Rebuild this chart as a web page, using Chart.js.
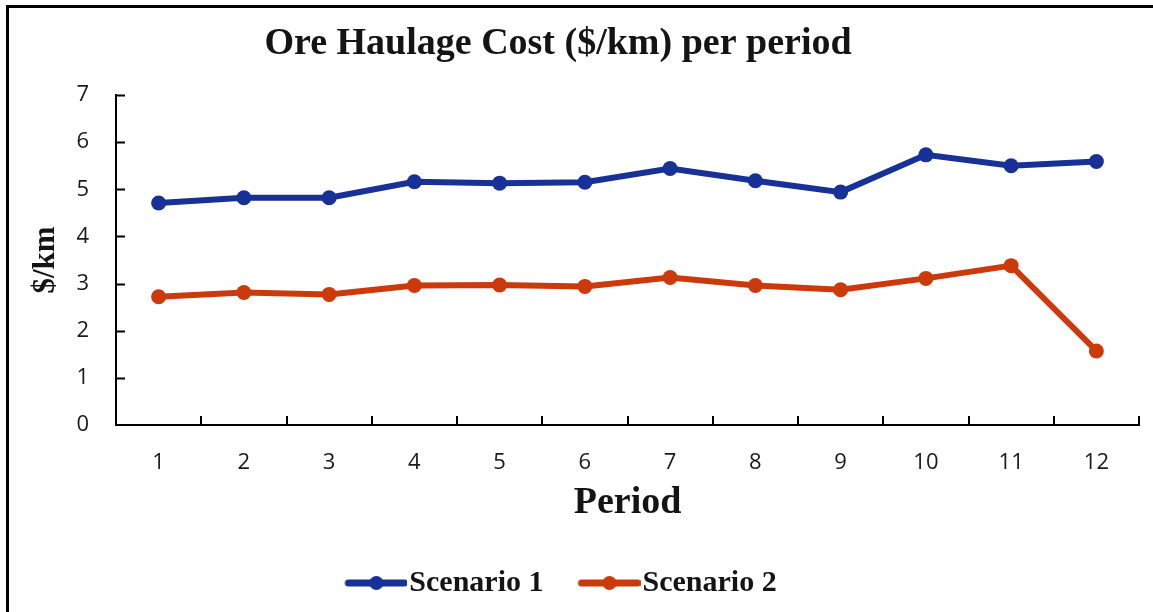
<!DOCTYPE html>
<html>
<head>
<meta charset="utf-8">
<script src="https://cdn.jsdelivr.net/npm/chart.js@4"></script>
<style>
  html, body { margin: 0; padding: 0; background: #fff; overflow: hidden; }
  #wrap { position: relative; width: 1153px; height: 612px; }
  #frame { position: absolute; left: 6px; top: 5px; width: 1160px; height: 640px;
           border-left: 3px solid #000; border-top: 3px solid #000; box-sizing: border-box; }
  canvas { position: absolute; left: 0; top: 0; }
</style>
</head>
<body>
<div id="wrap">
  <div id="frame"></div>
  <canvas id="myChart" width="1153" height="612"></canvas>
</div>
<script>
// datos
const periods = ['1','2','3','4','5','6','7','8','9','10','11','12'];
const scenario1 = [4.71, 4.82, 4.82, 5.16, 5.13, 5.15, 5.44, 5.18, 4.94, 5.73, 5.50, 5.59];
const scenario2 = [2.72, 2.81, 2.77, 2.96, 2.97, 2.94, 3.13, 2.96, 2.87, 3.11, 3.38, 1.57];
const yTicks = [0, 1, 2, 3, 4, 5, 6, 7];

const blue = '#183196';
const orange = '#cc3a0c';
const serif = "'Liberation Serif', 'Times New Roman', serif";
const sans = "'Open Sans', 'Liberation Sans', sans-serif";

// simbolo de leyenda: linea con punto (pegado a la derecha de la imagen)
function legendMark(color) {
    const c = document.createElement('canvas');
    c.width = 86; c.height = 16;
    const g = c.getContext('2d');
    g.strokeStyle = color; g.lineWidth = 7; g.lineCap = 'round';
    g.beginPath(); g.moveTo(27, 8); g.lineTo(83, 8); g.stroke();
    g.fillStyle = color;
    g.beginPath(); g.arc(55, 8, 7, 0, Math.PI * 2); g.fill();
    return c;
}
const marks = [legendMark(blue), legendMark(orange)];

// ticks hacia adentro + titulo
const innerTicks = {
    id: 'innerTicks',
    afterLayout(chart) {
        chart.legend.left -= 14;
        chart.legend.right -= 14;
    },
    afterDraw(chart) {
        const {ctx, chartArea: a, scales: {x, y}} = chart;
        ctx.save();
        ctx.strokeStyle = '#000';
        ctx.lineWidth = 2;
        ctx.beginPath();
        yTicks.forEach(v => {
            if (v === 0) return;
            const py = Math.round(y.getPixelForValue(v)) + 0.5;
            ctx.moveTo(a.left, py); ctx.lineTo(a.left + 9, py);
        });
        const step = x.getPixelForValue(1) - x.getPixelForValue(0);
        periods.forEach((p, i) => {
            const px = Math.round(x.getPixelForValue(i) + step / 2);
            ctx.moveTo(px, a.bottom); ctx.lineTo(px, a.bottom - 9);
        });
        ctx.stroke();
        ctx.fillStyle = '#141414';
        ctx.font = 'bold 38px ' + serif;
        ctx.textAlign = 'center';
        ctx.textBaseline = 'alphabetic';
        ctx.fillText('Ore Haulage Cost ($/km) per period', 558, 54);
        ctx.restore();
    }
};

const ctx = document.getElementById('myChart');

const myChart = new Chart(ctx, {
    type: 'line',
    data: {
        labels: periods,
        datasets: [{
            label: 'Scenario 1',
            data: scenario1,
            borderColor: blue,
            backgroundColor: blue,
            borderWidth: 6,
            pointRadius: 7.5,
            pointBorderWidth: 0,
            tension: 0
        }, {
            label: 'Scenario 2',
            data: scenario2,
            borderColor: orange,
            backgroundColor: orange,
            borderWidth: 6,
            pointRadius: 7.5,
            pointBorderWidth: 0,
            tension: 0
        }]
    },
    options: {
        responsive: false,
        animation: false,
        layout: { padding: { top: 95, right: 14, bottom: 4, left: 0 } },
        plugins: {
            title: { display: false },
            tooltip: { enabled: false },
            legend: {
                position: 'bottom',
                labels: {
                    usePointStyle: true,
                    pointStyleWidth: 60,
                    padding: 24,
                    color: '#141414',
                    font: { family: serif, size: 30, weight: 'bold' },
                    generateLabels(chart) {
                        return Chart.defaults.plugins.legend.labels.generateLabels(chart)
                            .map(l => Object.assign(l, { pointStyle: marks[l.datasetIndex] }));
                    }
                }
            }
        },
        scales: {
            x: {
                offset: true,
                grid: { display: false, drawTicks: false, offset: true },
                border: { color: '#000', width: 2 },
                ticks: { padding: 25, color: '#1a1a1a', font: { family: sans, size: 22 } },
                title: {
                    display: true, text: 'Period', color: '#141414',
                    font: { family: serif, size: 38, weight: 'bold' },
                    padding: { top: 0, bottom: 18 }
                },
                afterFit(scale) { scale.height = 119; }
            },
            y: {
                min: 0, max: 7,
                grid: { display: false, drawTicks: false },
                border: { color: '#000', width: 2 },
                ticks: {
                    stepSize: 1, padding: 27, color: '#1a1a1a',
                    font: { family: sans, size: 22 }
                },
                title: {
                    display: true, text: '$/km', color: '#141414',
                    font: { family: serif, size: 31, weight: 'bold' },
                    padding: { top: 27, bottom: 0 }
                },
                afterFit(scale) { scale.width = 116; }
            }
        }
    },
    plugins: [innerTicks]
});
</script>
</body>
</html>
